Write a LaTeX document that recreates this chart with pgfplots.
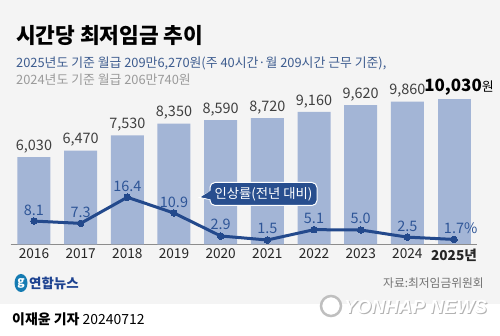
\documentclass[border=0pt]{standalone}
\usepackage{fontspec}
\setmainfont{Noto Sans CJK KR}
\newfontfamily\wm{Liberation Sans}
\usepackage{pgfplots}
\pgfplotsset{compat=1.18}
\definecolor{bg}{HTML}{F4F4F4}
\definecolor{barc}{HTML}{A3B5D6}
\definecolor{linec}{HTML}{23498C}
\definecolor{linelab}{HTML}{2E5597}
\definecolor{barlab}{HTML}{404040}
\definecolor{sub1}{HTML}{3D5C8F}
\definecolor{sub2}{HTML}{9A9A9A}
\definecolor{callc}{HTML}{284E8E}
\definecolor{logoc}{HTML}{1E4391}
\begin{document}
\begin{tikzpicture}
\useasboundingbox (0bp,0bp) rectangle (500bp,336bp);
\fill[bg] (0bp,0bp) rectangle (500bp,336bp);
\fill[white] (0bp,0bp) rectangle (500bp,32bp);
% titles
\node[anchor=west,inner sep=0pt] at (16bp,301bp) {\fontsize{21.5}{24}\selectfont\bfseries 시간당 최저임금 추이};
\node[anchor=west,inner sep=0pt,text=sub1] at (16bp,273bp) {\fontsize{12.9}{14}\selectfont 2025년도 기준 월급 209만6,270원(주 40시간·월 209시간 근무 기준),};
\node[anchor=west,inner sep=0pt,text=sub2] at (16bp,256bp) {\fontsize{12.9}{14}\selectfont 2024년도 기준 월급 206만740원};
% bars
\begin{axis}[at={(10.65bp,91.7bp)}, anchor=south west, scale only axis,
  width=466.7bp, height=154bp, xmin=-0.5, xmax=9.5, ymin=0, ymax=10650,
  axis y line=none, axis x line*=bottom,
  x axis line style={draw=black!45, line width=1.2bp, -},
  xtick={0,1,2,3,4,5,6,7,8,9},
  xticklabels={2016,2017,2018,2019,2020,2021,2022,2023,2024,{\bfseries 2025년}},
  major tick length=0pt,
  xticklabel style={font=\fontsize{13.7}{15}\selectfont, text=black!85, yshift=-1bp},
  ybar, bar width=33bp, clip=false,
  /pgf/number format/assume math mode=true,
  /pgf/number format/1000 sep={,}]
\addplot[fill=barc, draw=none, bar shift=0pt, nodes near coords,
  every node near coord/.append style={font=\fontsize{14.5}{16}\selectfont, text=barlab, yshift=0.5bp}]
  coordinates {(0,6030) (1,6470) (2,7530) (3,8350) (4,8590) (5,8720) (6,9160) (7,9620) (8,9860)};
\addplot[fill=barc, draw=none, bar shift=0pt,
  nodes near coords={\pgfmathprintnumber{\pgfplotspointmeta}{\fontsize{13}{14}\selectfont\mdseries 원}},
  every node near coord/.append style={font=\fontsize{17}{19}\selectfont\bfseries, text=black, xshift=5bp, yshift=0bp}]
  coordinates {(9,10030)};
\end{axis}
% line
\begin{axis}[at={(10.65bp,91.7bp)}, anchor=south west, scale only axis,
  width=466.7bp, height=154bp, xmin=-0.5, xmax=9.5, ymin=0, ymax=53.7,
  hide axis, clip=false]
\addplot[color=linec, line width=3bp, mark=*, mark size=3.3bp,
  mark options={fill=linec, draw=linec, line width=0pt},
  nodes near coords, point meta=explicit symbolic,
  every node near coord/.append style={font=\fontsize{14.5}{16}\selectfont, text=linelab, anchor=south, yshift=2.5bp}]
  coordinates {(0,8.1)[8.1] (1,7.3)[7.3] (2,16.4)[16.4] (3,10.9)[10.9] (4,2.9)[2.9]
    (5,1.5)[1.5] (6,5.1)[5.1] (7,5.0)[5.0] (8,2.5)[2.5] (9,1.7)[\phantom{\%}1.7\%]};
\end{axis}
% callout
\fill[callc, draw=white, line width=1bp] (213bp,146bp) -- (199.5bp,138.5bp) -- (213bp,136bp) -- cycle;
\node[fill=callc, draw=white, line width=1bp, rounded corners=5bp, text=white, minimum width=107bp, minimum height=23bp, inner sep=1bp]
  at (263.5bp,142bp) {\fontsize{13.4}{15}\selectfont 인상률(전년 대비)};
\fill[callc] (211bp,145.5bp) -- (201bp,139bp) -- (211bp,136.5bp) -- cycle;
% logo and source
\fill[logoc!70!cyan] (21bp,53bp) ellipse (6.5bp and 9bp);
\node[text=white, inner sep=0pt] at (21bp,53bp) {\fontsize{12}{12}\selectfont\bfseries\itshape g};
\node[anchor=west, inner sep=0pt, text=logoc] at (29bp,53bp) {\fontsize{13.5}{14}\selectfont\bfseries 연합뉴스};
\node[anchor=east, inner sep=0pt, text=black!55] at (484bp,53bp) {\fontsize{11.8}{13}\selectfont 자료:최저임금위원회};
% watermark
\draw[black!25, line width=2.5bp, fill=white] (331bp,30bp) circle (10bp);
\node[anchor=west, inner sep=0pt, text=black!30] at (344.8bp,28.5bp) {\wm\fontsize{19}{20}\selectfont\bfseries\itshape YONHAP NEWS};
\node[anchor=west, inner sep=0pt, text=white] at (343.8bp,29.5bp) {\wm\fontsize{19}{20}\selectfont\bfseries\itshape YONHAP NEWS};
% footer
\node[anchor=west, inner sep=0pt] at (12bp,16.5bp) {\fontsize{14}{15}\selectfont{\bfseries 이재윤 기자} 20240712};
\end{tikzpicture}
\end{document}
